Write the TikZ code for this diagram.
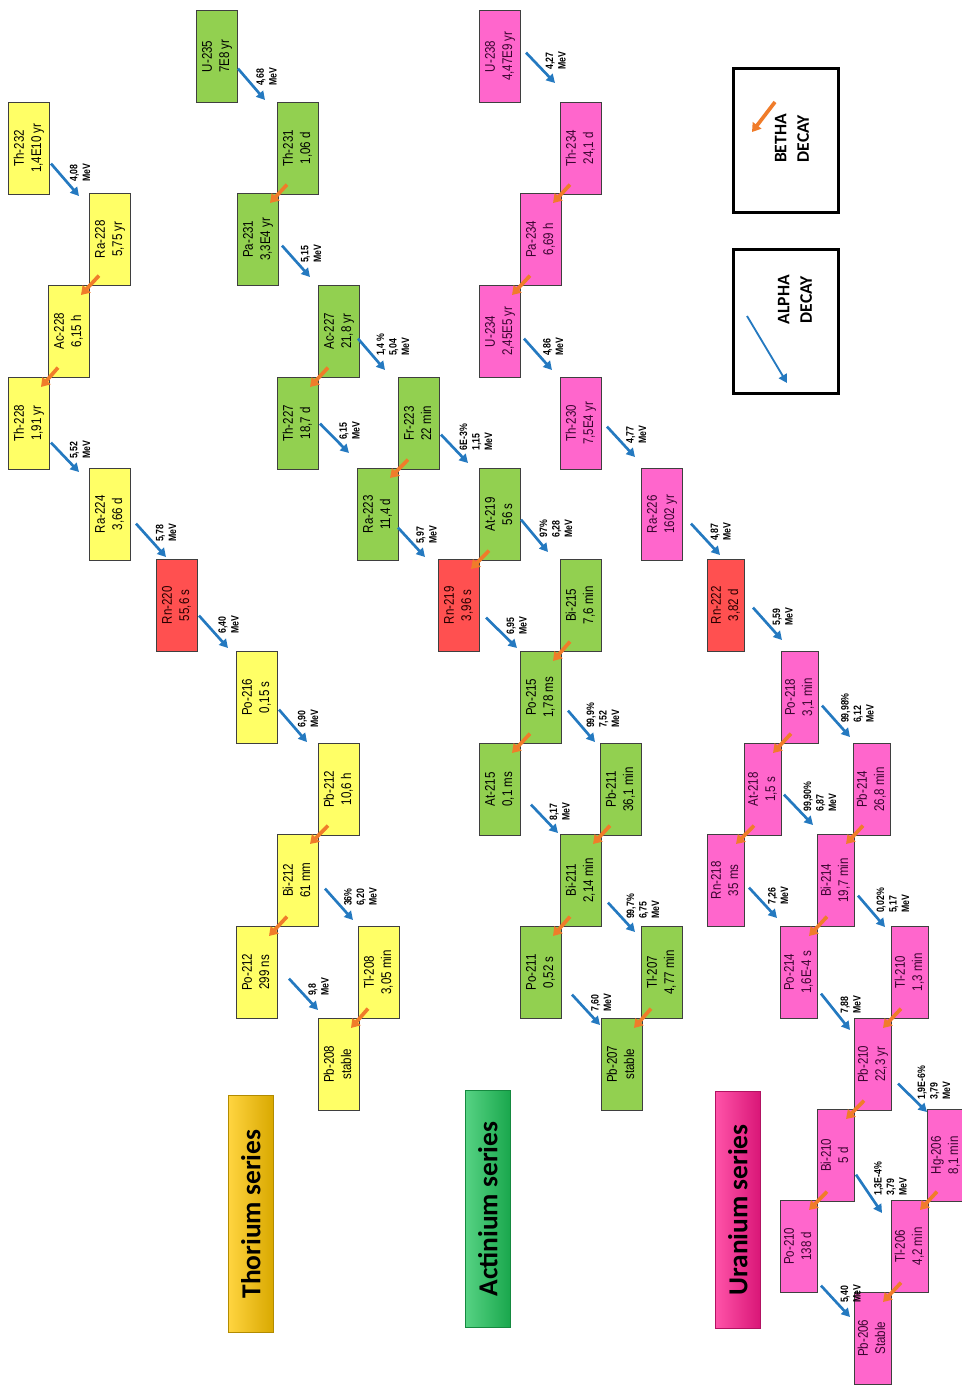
\documentclass[tikz,border=0pt]{standalone}
\usepackage{fontspec}
\usepackage{graphicx}
\usepackage{xcolor}
\setmainfont{Liberation Sans}
\newfontfamily\narrowfont[FakeStretch=0.82]{Liberation Sans}
\newfontfamily\seriesfont{Carlito}
\usetikzlibrary{arrows.meta}

\definecolor{thYellow}{HTML}{FFFF66}
\definecolor{acGreen}{HTML}{92D050}
\definecolor{urPink}{HTML}{FF66CC}
\definecolor{rnRed}{HTML}{FF5050}
\definecolor{boxLine}{HTML}{3F3F3F}
\definecolor{urText}{HTML}{3A0530}
\definecolor{alphaBlue}{HTML}{2479C0}
\definecolor{betaOrange}{HTML}{F07C2A}
\definecolor{thGold}{HTML}{FFC600}
\definecolor{acEmerald}{HTML}{1EC45A}
\definecolor{urMagenta}{HTML}{FF1A8C}

% rotated two-line nuclide text and rotated decay labels
\newcommand{\iso}[2]{\rotatebox{90}{\begin{tabular}{@{}c@{}}#1\\#2\end{tabular}}}
\newcommand{\vlab}[1]{\rotatebox{90}{\begin{tabular}{@{}l@{}}#1\end{tabular}}}

\tikzset{
  nuclide/.style={
    draw=boxLine, line width=0.7pt, anchor=north west, inner sep=0pt,
    minimum width=1.025cm, minimum height=2.29cm,
    font=\narrowfont\fontsize{10}{12.3}\selectfont
  },
  narrow/.style={minimum width=0.925cm},
  thbox/.style={nuclide, fill=thYellow},
  acbox/.style={nuclide, fill=acGreen},
  urbox/.style={nuclide, fill=urPink, text=urText},
  rnbox/.style={nuclide, fill=rnRed, text=black!85!red},
  alphaarrow/.style={-{Triangle[length=6pt, width=6.5pt]}, line width=1.9pt, alphaBlue},
  betaarrow/.style={-{Triangle[length=6pt, width=7.5pt]}, line width=2.6pt, betaOrange},
  alphalabel/.style={
    anchor=south west, inner sep=0pt, xshift=0.06cm, yshift=-0.075cm, text=black,
    font=\narrowfont\bfseries\fontsize{7.6}{8.9}\selectfont
  },
  serieslab/.style={
    draw=#1!70!black, line width=0.6pt, anchor=north west, inner sep=0pt,
    minimum width=1.125cm, minimum height=5.925cm,
    left color=#1!75!white, middle color=#1, right color=#1!85!black,
    font=\seriesfont\bfseries\fontsize{19.5}{22}\selectfont
  },
  legendbox/.style={
    draw=black, line width=2.2pt, fill=white, anchor=north west,
    minimum width=2.625cm, minimum height=3.6cm
  },
  legendtext/.style={font=\seriesfont\bfseries\fontsize{12.5}{16}\selectfont, inner sep=0pt}
}

\begin{document}
\begin{tikzpicture}[x=0.025cm, y=-0.025cm]
  \useasboundingbox (0,0) rectangle (961,1385);

  % Thorium series
  \node[thbox] (th232) at (8,102) {\iso{Th-232}{1,4E10 yr}};
  \node[thbox] (ra228) at (89,193) {\iso{Ra-228}{5,75 yr}};
  \node[thbox] (ac228) at (48,285) {\iso{Ac-228}{6,15 h}};
  \node[thbox] (th228) at (8,377) {\iso{Th-228}{1,91 yr}};
  \node[thbox] (ra224) at (89,468) {\iso{Ra-224}{3,66 d}};
  \node[rnbox] (rn220) at (156,559) {\iso{Rn-220}{55,6 s}};
  \node[thbox] (po216) at (236,651) {\iso{Po-216}{0,15 s}};
  \node[thbox] (pb212) at (318,743) {\iso{Pb-212}{10,6 h}};
  \node[thbox] (bi212) at (277,834) {\iso{Bi-212}{61 mm}};
  \node[thbox] (po212) at (236,926) {\iso{Po-212}{299 ns}};
  \node[thbox] (tl208) at (358,926) {\iso{Tl-208}{3,05 min}};
  \node[thbox] (pb208) at (318,1018) {\iso{Pb-208}{stable}};

  % Actinium series
  \node[acbox] (u235) at (196,10) {\iso{U-235}{7E8 yr}};
  \node[acbox] (th231) at (277,102) {\iso{Th-231}{1,06 d}};
  \node[acbox] (pa231) at (237,193) {\iso{Pa-231}{3,3E4 yr}};
  \node[acbox] (ac227) at (318,285) {\iso{Ac-227}{21,8 yr}};
  \node[acbox] (th227) at (277,377) {\iso{Th-227}{18,7 d}};
  \node[acbox] (fr223) at (398,377) {\iso{Fr-223}{22 min}};
  \node[acbox] (ra223) at (357,468) {\iso{Ra-223}{11,4 d}};
  \node[acbox] (at219) at (479,468) {\iso{At-219}{56 s}};
  \node[rnbox] (rn219) at (438,559) {\iso{Rn-219}{3,96 s}};
  \node[acbox] (bi215) at (560,559) {\iso{Bi-215}{7,6 min}};
  \node[acbox] (po215) at (520,651) {\iso{Po-215}{1,78 ms}};
  \node[acbox] (at215) at (479,743) {\iso{At-215}{0,1 ms}};
  \node[acbox] (pb211) at (600,743) {\iso{Pb-211}{36,1 min}};
  \node[acbox] (bi211) at (560,834) {\iso{Bi-211}{2,14 min}};
  \node[acbox] (po211) at (520,926) {\iso{Po-211}{0,52 s}};
  \node[acbox] (tl207) at (641,926) {\iso{Tl-207}{4,77 min}};
  \node[acbox] (pb207) at (601,1018) {\iso{Pb-207}{stable}};

  % Uranium series
  \node[urbox] (u238) at (479,10) {\iso{U-238}{4,47E9 yr}};
  \node[urbox] (th234) at (560,102) {\iso{Th-234}{24,1 d}};
  \node[urbox] (pa234) at (520,193) {\iso{Pa-234}{6,69 h}};
  \node[urbox] (u234) at (479,285) {\iso{U-234}{2,45E5 yr}};
  \node[urbox] (th230) at (560,377) {\iso{Th-230}{7,5E4 yr}};
  \node[urbox] (ra226) at (641,468) {\iso{Ra-226}{1602 yr}};
  \node[rnbox, narrow] (rn222) at (707,559) {\iso{Rn-222}{3,82 d}};
  \node[urbox, narrow] (po218) at (781,651) {\iso{Po-218}{3,1 min}};
  \node[urbox, narrow] (at218) at (744,743) {\iso{At-218}{1,5 s}};
  \node[urbox, narrow] (pb214) at (853,743) {\iso{Pb-214}{26,8 min}};
  \node[urbox, narrow] (rn218) at (707,834) {\iso{Rn-218}{35 ms}};
  \node[urbox, narrow] (bi214) at (817,834) {\iso{Bi-214}{19,7 min}};
  \node[urbox, narrow] (po214) at (780,926) {\iso{Po-214}{1,6E-4 s}};
  \node[urbox, narrow] (tl210) at (891,926) {\iso{Tl-210}{1,3 min}};
  \node[urbox, narrow] (pb210) at (854,1018) {\iso{Pb-210}{22,3 yr}};
  \node[urbox, narrow] (bi210) at (817,1109) {\iso{Bi-210}{5 d}};
  \node[urbox, narrow] (hg206) at (927,1109) {\iso{Hg-206}{8,1 min}};
  \node[urbox, narrow] (po210) at (780,1200) {\iso{Po-210}{138 d}};
  \node[urbox, narrow] (tl206) at (891,1200) {\iso{Tl-206}{4,2 min}};
  \node[urbox, narrow] (pb206) at (854,1292) {\iso{Pb-206}{Stable}};

  % alpha decays
  \foreach \src/\dst/\sx/\sy/\ex/\ey/\lab in {
    th232/ra228/1/-31/-10/3/{4,08\\MeV},
    th228/ra224/1/-27/-10/4/{5,52\\MeV},
    ra224/rn220/5/-37/10/-2/{5,78\\MeV},
    rn220/po216/1/-36/-8/-3/{6,40\\MeV},
    po216/pb212/1/-34/-11/-1/{6,90\\MeV},
    bi212/tl208/6/-38/-5/-6/{36\%\\6,20\\MeV},
    po212/pb208/11/-40/0/-8/{9,8\\MeV},
    u235/th231/0/-34/-12/-2/{4,68\\MeV},
    pa231/ac227/3/-40/-8/-8/{5,15\\MeV},
    ac227/fr223/-2/-39/-13/-7/{1,4 \%\\5,04\\MeV},
    th227/ra223/1/-46/-8/-15/{6,15\\MeV},
    fr223/at219/1/-35/-11/-5/{6E-3\%\\1,15\\MeV},
    ra223/rn219/-1/-33/-13/-2/{5,97\\MeV},
    at219/bi215/0/-41/-12/-7/{97\%\\6,28\\MeV},
    rn219/po215/6/-34/-3/-3/{6,95\\MeV},
    po215/pb211/6/-33/-5/-1/{99,9\%\\7,52\\MeV},
    at215/bi211/10/-31/-2/-1/{8,17\\MeV},
    bi211/tl207/6/-24/-6/6/{99,7\%\\6,75\\MeV},
    po211/pb207/10/-24/-1/7/{7,60\\MeV},
    u238/th234/5/-50/-5/-19/{4,27\\MeV},
    u234/th230/3/-39/-8/-7/{4,86\\MeV},
    th230/ra226/5/-43/-6/-11/{4,77\\MeV},
    ra226/rn222/8/-37/13/-4/{4,87\\MeV},
    rn222/po218/8/-44/1/-11/{5,59\\MeV},
    po218/pb214/3/-38/-3/-6/{99,98\%\\6,12\\MeV},
    at218/bi214/2/-41/-4/-9/{99,90\%\\6,87\\MeV},
    rn218/po214/4/-39/-3/-8/{7,26\\MeV},
    bi214/tl210/3/-31/-6/1/{0,02\%\\5,17\\MeV},
    po214/pb210/3/-25/-4/12/{7,88\\MeV},
    pb210/hg206/6/-27/0/3/{1,9E-6\%\\3,79\\MeV},
    bi210/tl206/1/-27/-9/13/{1,3E-4\%\\3,79\\MeV},
    po210/pb206/3/-7/-4/25/{5,40\\MeV}}
    \draw[alphaarrow] ([shift={(\sx,\sy)}]\src.south east)
      -- node[alphalabel]{\vlab{\lab}} ([shift={(\ex,\ey)}]\dst.north west);

  % beta decays
  \foreach \src/\dst in {ra228/ac228, ac228/th228, pb212/bi212, bi212/po212, tl208/pb208,
    th231/pa231, ac227/th227, fr223/ra223, at219/rn219, bi215/po215, po215/at215,
    pb211/bi211, bi211/po211, tl207/pb207,
    th234/pa234, pa234/u234, po218/at218, at218/rn218, pb214/bi214, bi214/po214,
    tl210/pb210, pb210/bi210, bi210/po210, hg206/tl206, tl206/pb206}
    \draw[betaarrow] ([shift={(10,-10)}]\src.south west) -- ([shift={(-9,10)}]\dst.north east);

  % series titles
  \node[serieslab=thGold] (thseries) at (228,1095) {\rotatebox{90}{Thorium series}};
  \node[serieslab=acEmerald] (acseries) at (465,1090) {\rotatebox{90}{Actinium series}};
  \node[serieslab=urMagenta] (urseries) at (715,1091) {\rotatebox{90}{Uranium series}};

  % legend
  \node[legendbox] (betalegend) at (732,67) {};
  \node[legendtext] (betatext) at ([shift={(7,-2)}]betalegend.center)
    {\rotatebox{90}{\begin{tabular}{@{}c@{}}BETHA\\DECAY\end{tabular}}};
  \draw[betaarrow] ([shift={(43,35)}]betalegend.north west) -- ([shift={(20,65)}]betalegend.north west);
  \node[legendbox] (alphalegend) at (732,248) {};
  \node[legendtext] (alphatext) at ([shift={(10,-22)}]alphalegend.center)
    {\rotatebox{90}{\begin{tabular}{@{}c@{}}ALPHA\\DECAY\end{tabular}}};
  \draw[alphaarrow, line width=1.3pt] ([shift={(15,68)}]alphalegend.north west) -- ([shift={(55,135)}]alphalegend.north west);
\end{tikzpicture}
\end{document}
